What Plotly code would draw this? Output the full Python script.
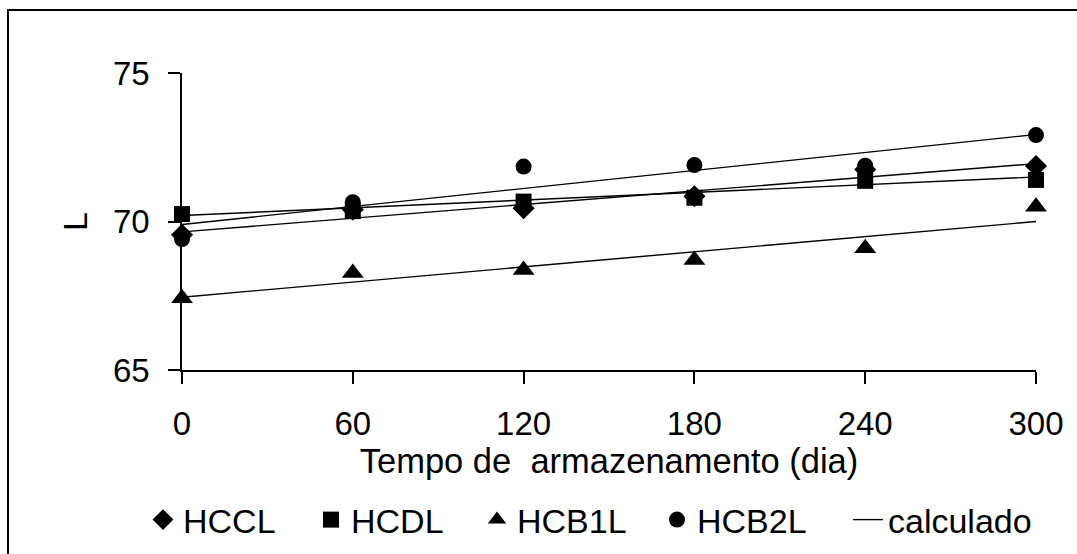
import plotly.graph_objects as go

# ---- data ----
days = [0, 60, 120, 180, 240, 300]
HCCL = [69.55, 70.4, 70.45, 70.85, 71.75, 71.87]
HCDL = [70.25, 70.35, 70.67, 70.8, 71.37, 71.4]
HCB1L = [67.42, 68.27, 68.37, 68.7, 69.1, 70.5]
HCB2L = [69.41, 70.65, 71.85, 71.9, 71.88, 72.91]

series_names = ["HCCL", "HCDL", "HCB1L", "HCB2L"]
series_values = [HCCL, HCDL, HCB1L, HCB2L]
series_symbols = ["diamond", "square", "triangle-up", "circle"]
series_sizes = [17, 16, 19, 16]

# fitted ("calculado") lines: value at first and last day
calc_start = [69.65, 70.2, 67.45, 69.9]
calc_end = [71.95, 71.5, 70.0, 72.93]

x_ticks = [0, 60, 120, 180, 240, 300]
y_ticks = [65, 70, 75]

FONT = "Liberation Sans, Arial, sans-serif"

W, H = 1077, 554
L, R, T, B = 182, 41, 73, 184
pw, ph = W - L - R, H - T - B


def px_to_paper_x(px):
    return (px - L) / pw


def px_to_paper_y(py):
    return (H - B - py) / ph


# legend entry left edges (px) so that each entry sits where the reference has it
legend_ids = ["legend", "legend2", "legend3", "legend4", "legend5"]
legend_left_px = [143, 311, 477, 657, 848]
legend_mid_px = 520

fig = go.Figure()

for i, (name, vals, sym, sz) in enumerate(zip(series_names, series_values, series_symbols, series_sizes)):
    fig.add_trace(go.Scatter(
        x=days, y=vals, mode="markers", name=name,
        marker=dict(symbol=sym, size=sz, color="black", line=dict(width=0)),
        cliponaxis=False, legend=legend_ids[i],
    ))

for i, (s, e) in enumerate(zip(calc_start, calc_end)):
    fig.add_trace(go.Scatter(
        x=[days[0], days[-1]], y=[s, e], mode="lines", name="calculado",
        line=dict(color="black", width=1.4),
        legendgroup="calc", showlegend=(i == 0), cliponaxis=False,
        legend=legend_ids[4],
    ))

fig.add_shape(type="rect", xref="paper", yref="paper",
              x0=px_to_paper_x(8), x1=px_to_paper_x(1090),
              y0=px_to_paper_y(570), y1=px_to_paper_y(10),
              line=dict(color="black", width=2), fillcolor="rgba(0,0,0,0)",
              layer="below")

legend_style = dict(
    orientation="h", xanchor="left", yanchor="middle",
    xref="container", yref="container",
    y=1 - legend_mid_px / H,
    font=dict(family=FONT, size=34, color="black"),
    bgcolor="rgba(0,0,0,0)", borderwidth=0,
    itemsizing="trace", itemwidth=30,
)
legends = {lid: dict(legend_style, x=lx / W) for lid, lx in zip(legend_ids, legend_left_px)}

fig.update_layout(
    width=W, height=H, autosize=False,
    margin=dict(l=L, r=R, t=T, b=B, pad=0, autoexpand=False),
    paper_bgcolor="white", plot_bgcolor="white",
    font=dict(family=FONT, size=34, color="black"),
    showlegend=True,
    **legends,
    xaxis=dict(
        range=[0, 300], tickvals=x_ticks, ticktext=[str(v) for v in x_ticks],
        showline=True, linecolor="black", linewidth=1.5,
        ticks="outside", ticklen=12, tickwidth=1.5, tickcolor="black",
        showgrid=False, zeroline=False, automargin=False,
        tickfont=dict(family=FONT, size=33),
        ticklabelstandoff=12,
        title=dict(text="Tempo de \u00a0armazenamento (dia)",
                   font=dict(family=FONT, size=34.5), standoff=0),
    ),
    yaxis=dict(
        range=[65, 75], tickvals=y_ticks, ticktext=[str(v) for v in y_ticks],
        showline=True, linecolor="black", linewidth=1.5,
        ticks="outside", ticklen=12, tickwidth=1.5, tickcolor="black",
        showgrid=False, zeroline=False, automargin=False,
        tickfont=dict(family=FONT, size=33),
        ticklabelstandoff=12,
        title=dict(text="L", font=dict(family=FONT, size=34), standoff=15),
    ),
)

fig.write_html("out.html", config={"displayModeBar": False},
               post_script="document.body.style.margin='0';")
